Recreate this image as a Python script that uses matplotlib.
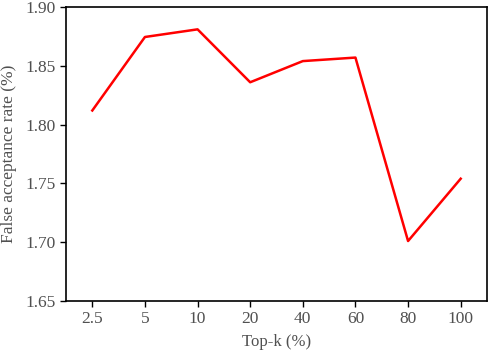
import matplotlib
matplotlib.use('Agg')
import matplotlib.pyplot as plt

# データ
topk_labels = ['2.5', '5', '10', '20', '40', '60', '80', '100']
far_values = [1.812, 1.8745, 1.881, 1.836, 1.854, 1.857, 1.701, 1.754]

plt.rcParams['font.family'] = ['Liberation Serif', 'DejaVu Serif']
plt.rcParams['font.size'] = 12.5

fig = plt.figure(figsize=(4.9, 3.52), dpi=100)
ax = fig.add_axes([66 / 490, 1 - 301 / 352, (487 - 66) / 490, (301 - 7) / 352])

x = list(range(len(topk_labels)))
ax.plot(x, far_values, color='red', linewidth=1.8)

ax.set_xlim(-0.5, len(topk_labels) - 0.5)
ax.set_ylim(1.65, 1.90)
ax.set_xticks(x)
ax.set_xticklabels(topk_labels)
ax.set_yticks([1.65, 1.70, 1.75, 1.80, 1.85, 1.90])
ax.set_yticklabels(['1.65', '1.70', '1.75', '1.80', '1.85', '1.90'])

text_color = '#505050'
ax.tick_params(direction='out', length=4, width=1, colors='black', labelcolor=text_color, labelsize=12.5)
ax.set_xlabel('Top-k (%)', color=text_color, labelpad=5, fontsize=12)
ax.set_ylabel('False acceptance rate (%)', color=text_color, labelpad=6, fontsize=12.5)
for sp in ax.spines.values():
    sp.set_linewidth(1.2)

fig.savefig('out.png', dpi=100)
plt.close(fig)
